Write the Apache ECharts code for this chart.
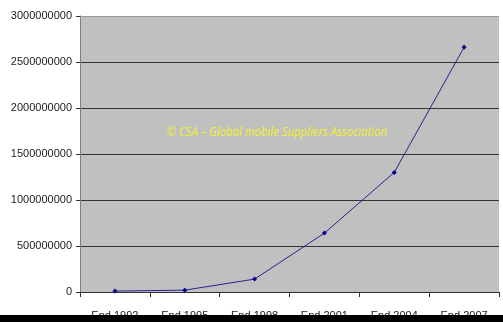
<!DOCTYPE html>
<html>
<head>
<meta charset="utf-8">
<script src="https://cdn.jsdelivr.net/npm/echarts@6/dist/echarts.min.js"></script>
<style>
  html, body { margin: 0; padding: 0; background: #fff; }
  #chart { width: 503px; height: 322px; }
</style>
</head>
<body>
<div id="chart"></div>
<script>
// Mobile subscribers, end of year
const categories = ['End 1992', 'End 1995', 'End 1998', 'End 2001', 'End 2004', 'End 2007'];
const subscribers = [10000000, 20000000, 140000000, 640000000, 1300000000, 2660000000];
const yTicks = [0, 500000000, 1000000000, 1500000000, 2000000000, 2500000000, 3000000000];

const chart = echarts.init(document.getElementById('chart'));
chart.setOption({
  animation: false,
  backgroundColor: '#ffffff',
  grid: {
    left: 80, right: 4, top: 16, bottom: 30,
    show: true, backgroundColor: '#c0c0c0', borderWidth: 0
  },
  xAxis: {
    type: 'category',
    data: categories,
    boundaryGap: true,
    axisLine: { lineStyle: { color: '#333333', width: 1 } },
    axisTick: { show: true, length: 5, lineStyle: { color: '#333333' } },
    axisLabel: {
      margin: 18, color: '#222222', fontSize: 11,
      fontFamily: 'Liberation Sans, Arial, sans-serif'
    }
  },
  yAxis: {
    type: 'value',
    min: yTicks[0],
    max: yTicks[yTicks.length - 1],
    interval: yTicks[1] - yTicks[0],
    axisLine: { show: true, lineStyle: { color: '#808080', width: 1 } },
    axisTick: { show: true, length: 4, lineStyle: { color: '#333333' } },
    axisLabel: {
      margin: 8, color: '#222222', fontSize: 11,
      fontFamily: 'Liberation Sans, Arial, sans-serif',
      formatter: v => String(v)
    },
    splitLine: {
      show: true,
      lineStyle: { color: ['#333333', '#333333', '#333333', '#333333', '#333333', '#333333', '#9a9a9a'], width: 1 }
    }
  },
  series: [{
    type: 'line',
    data: subscribers,
    symbol: 'diamond',
    symbolSize: 5,
    lineStyle: { color: '#24248c', width: 1 },
    itemStyle: { color: '#00008b' }
  }],
  graphic: [
    {
      type: 'text',
      x: 167, y: 126,
      scaleX: 0.87,
      style: {
        text: '© CSA – Global mobile Suppliers Association',
        fill: '#f4f430',
        font: 'italic 13px "Open Sans", sans-serif'
      },
      z: 50
    },
    {
      type: 'rect',
      shape: { x: 0, y: 315, width: 503, height: 7 },
      style: { fill: '#000000' },
      z: 100
    }
  ]
});
</script>
</body>
</html>
